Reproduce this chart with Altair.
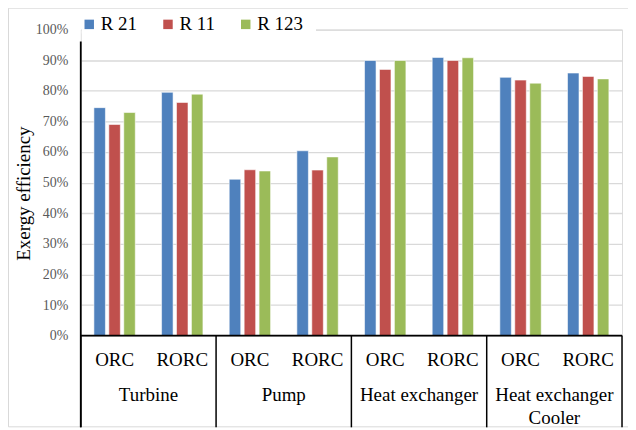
import altair as alt
import pandas as pd

groups = ["Turbine", "Pump", "Heat exchanger", "Heat exchanger\nCooler"]
cycles = ["ORC", "RORC"]
series = ["R 21", "R 11", "R 123"]
r21 = [74.5, 79.5, 51.1, 60.4, 89.9, 90.9, 84.4, 85.8]
r11 = [69.0, 76.2, 54.2, 54.1, 87.0, 89.9, 83.5, 84.7]
r123 = [72.9, 78.9, 53.8, 58.4, 89.9, 90.8, 82.5, 83.9]
colors = ["#4F81BD", "#C0504D", "#9BBB59"]
y_ticks = [0, 0.1, 0.2, 0.3, 0.4, 0.5, 0.6, 0.7, 0.8, 0.9, 1.0]

FONT = "Liberation Serif"
W, H = 543, 307
BOTTOM = 92

keys = []
cat_rows = []
for gi, g in enumerate(groups):
    for c in cycles:
        k = f"{gi}-{c}"
        keys.append(k)
        cat_rows.append({"key": k, "group": g, "cycle": c})

rows = []
for i, k in enumerate(keys):
    for s, vals in zip(series, [r21, r11, r123]):
        rows.append({"key": k, "series": s, "value": vals[i] / 100.0})

bars_df = pd.DataFrame(rows)
cats_df = pd.DataFrame(cat_rows)

xscale = alt.Scale(domain=keys, paddingInner=0, paddingOuter=0)

border = alt.Chart(alt.Data(values=[{}])).mark_rect(
    fillOpacity=0, stroke="#D9D9D9", strokeWidth=1
).encode(
    x=alt.value(-72.5), x2=alt.value(700),
    y=alt.value(-21.5), y2=alt.value(H + BOTTOM - 0.5)
)

cover = alt.Chart(alt.Data(values=[{}])).mark_rect(color="white").encode(
    x=alt.value(1), x2=alt.value(236), y=alt.value(-5), y2=alt.value(4)
)

bars = alt.Chart(bars_df).mark_bar(
    stroke="white", strokeWidth=0.8, strokeOpacity=0.7
).encode(
    x=alt.X("key:N", scale=xscale, axis=None),
    xOffset=alt.XOffset("series:N", scale=alt.Scale(domain=series, paddingInner=0.23, paddingOuter=0.88)),
    y=alt.Y("value:Q", scale=alt.Scale(domain=[0, 1]),
            axis=alt.Axis(values=y_ticks, format=".0%", domain=False, ticks=False,
                          grid=True, gridColor="#D9D9D9", gridWidth=1.3,
                          labelFont=FONT, labelFontSize=14, labelColor="#595959",
                          labelPadding=13,
                          title="Exergy efficiency", titleFont=FONT, titleFontSize=19,
                          titleFontWeight="normal", titleColor="black",
                          titleX=-51, titleY=164, titleBaseline="alphabetic")),
    color=alt.Color("series:N", scale=alt.Scale(domain=series, range=colors),
                    legend=alt.Legend(orient="none", legendX=-1, legendY=-15,
                                      direction="horizontal", title=None,
                                      symbolType="square", symbolSize=90,
                                      symbolStrokeWidth=0,
                                      labelFont=FONT, labelFontSize=19, labelColor="black",
                                      labelOffset=2, columnPadding=21, padding=0))
)

xline = alt.Chart(alt.Data(values=[{}])).mark_rule(color="black", strokeWidth=1.8).encode(
    x=alt.value(0), x2=alt.value(W), y=alt.value(H)
)
yline = alt.Chart(alt.Data(values=[{}])).mark_rule(color="black", strokeWidth=1.8).encode(
    x=alt.value(0), y=alt.value(12), y2=alt.value(H + BOTTOM)
)

seps = alt.Chart(cats_df).transform_filter(alt.datum.cycle == "ORC").mark_rule(
    color="black", strokeWidth=1.5
).encode(
    x=alt.X("key:N", scale=xscale, axis=None, bandPosition=0),
    y=alt.value(H), y2=alt.value(H + BOTTOM)
)
sep_end = alt.Chart(cats_df).transform_filter(alt.datum.key == keys[-1]).mark_rule(
    color="black", strokeWidth=1.5
).encode(
    x=alt.X("key:N", scale=xscale, axis=None, bandPosition=1),
    y=alt.value(H), y2=alt.value(H + BOTTOM)
)

cycle_text = alt.Chart(cats_df).mark_text(
    font=FONT, fontSize=19, color="black", baseline="middle"
).encode(
    x=alt.X("key:N", scale=xscale, axis=None),
    y=alt.value(H + 24),
    text="cycle:N"
)

group_text = alt.Chart(cats_df).transform_filter(alt.datum.cycle == "RORC").mark_text(
    font=FONT, fontSize=19, color="black", baseline="alphabetic",
    lineBreak="\n", lineHeight=23
).encode(
    x=alt.X("key:N", scale=xscale, axis=None, bandPosition=0),
    y=alt.value(H + 66),
    text="group:N"
)

chart = alt.layer(
    border, cover, bars, xline, yline, seps, sep_end, cycle_text, group_text
).properties(
    width=W, height=H,
    autosize=alt.AutoSizeParams(type="none"),
    padding={"left": 73, "top": 21, "right": 6, "bottom": BOTTOM}
).configure_view(strokeWidth=0).configure(background="white")

chart.save("out.html", embed_options={"renderer": "svg", "actions": False})
